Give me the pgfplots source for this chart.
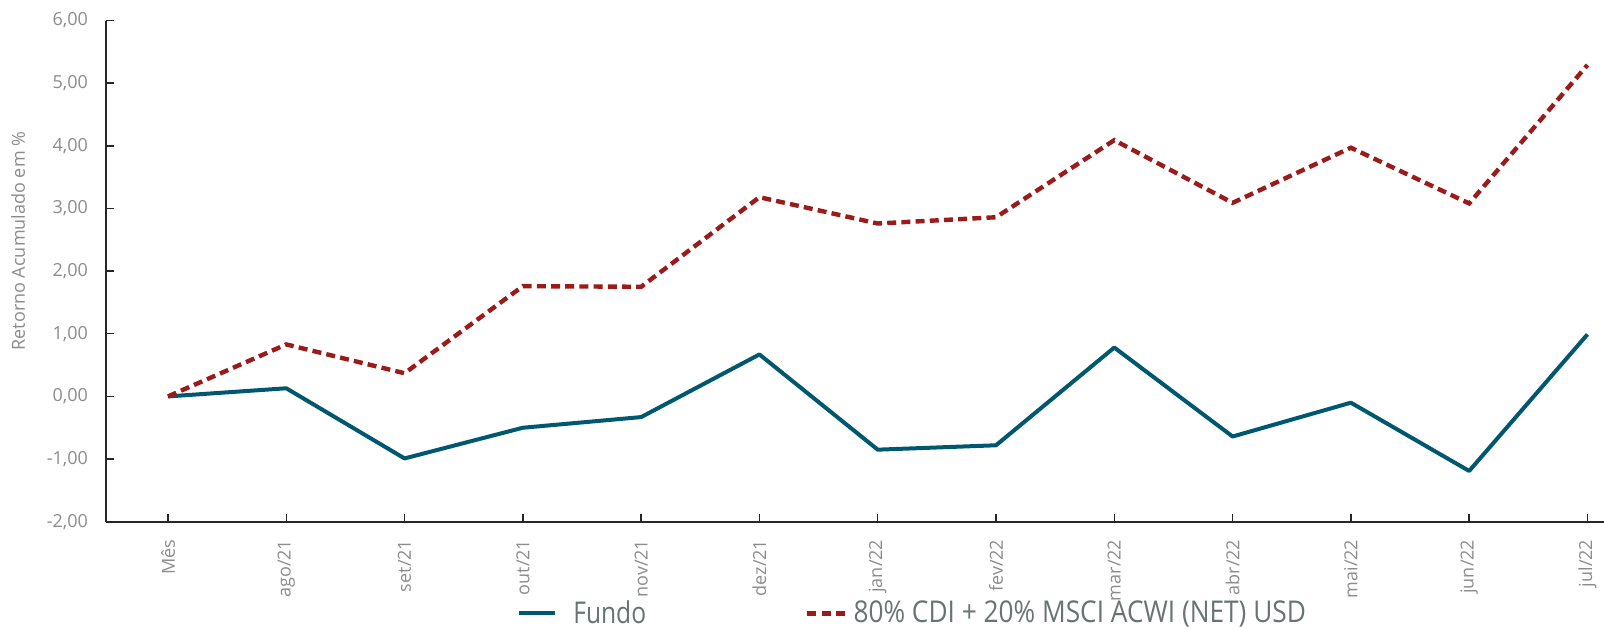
\documentclass[border=0pt]{standalone}
\usepackage{fontspec}
\setmainfont{Open Sans}
\newfontfamily\legfont{Open Sans}[FakeStretch=0.82]
\newfontfamily\legfontB{Open Sans}[FakeStretch=0.875]
\usepackage{pgfplots}
\pgfplotsset{compat=1.18}
\definecolor{fundo}{RGB}{0,88,112}
\definecolor{bench}{RGB}{155,26,26}
\definecolor{ticktext}{RGB}{140,140,140}
\definecolor{legtext}{RGB}{105,115,115}
\pgfplotsset{
  fundoimg/.style={legend image code/.code={\draw[##1] (0pt,0pt) -- (18pt,0pt); \path (25pt,0pt);}},
  benchimg/.style={legend image code/.code={\draw[##1] (0pt,0pt) -- (19.5pt,0pt); \path (21pt,0pt);}},
}
\begin{document}
\begin{tikzpicture}
\useasboundingbox (0,0) rectangle (802pt,-314.5pt);
\begin{axis}[
  at={(53pt,-260.85pt)}, anchor=south west,
  scale only axis, width=749pt, height=250.6pt,
  xmin=-0.524, xmax=12.14, ymin=-2, ymax=6,
  axis x line=bottom, axis y line=left,
  axis line style={line width=0.8pt, black!85, -},
  xtick={0,...,12},
  xticklabels={Mês,ago/21,set/21,out/21,nov/21,dez/21,jan/22,fev/22,mar/22,abr/22,mai/22,jun/22,jul/22},
  ytick={-2,-1,...,6},
  tick align=inside, major tick length=4pt,
  tick style={line width=0.7pt, black!85},
  /pgf/number format/fixed, /pgf/number format/fixed zerofill, /pgf/number format/precision=2,
  /pgf/number format/use comma, /pgf/number format/assume math mode=true,
  yticklabel style={font=\fontsize{9}{10}\selectfont, text=ticktext},
  yticklabel shift=5.5pt,
  xticklabel style={rotate=90, anchor=east, font=\fontsize{9}{10}\selectfont, text=ticktext},
  xticklabel shift=5.5pt,
  ylabel={Retorno Acumulado em \%},
  ylabel style={at={(axis description cs:-0.0587,0.56)}, anchor=center, font=\fontsize{9}{10}\selectfont, text=ticktext},
  legend style={at={(0.2703,-0.183)}, anchor=west, draw=none, fill=none,
    legend columns=2, font=\legfont\fontsize{15}{18}\selectfont,
    nodes={inner sep=1pt, text=legtext},
    /tikz/every even column/.append style={column sep=78.5pt}},
  clip=false,
]
\addplot[color=fundo, line width=2pt, line join=round, fundoimg]
  coordinates {(0,0) (1,0.13) (2,-0.99) (3,-0.50) (4,-0.33) (5,0.67) (6,-0.85) (7,-0.78) (8,0.78) (9,-0.64) (10,-0.10) (11,-1.19) (12,0.99)};
\addlegendentry{Fundo}
\addplot[color=bench, line width=2.2pt, dash pattern=on 4.5pt off 2.6pt, benchimg]
  coordinates {(0,0) (1,0.83) (2,0.37) (3,1.76) (4,1.75) (5,3.18) (6,2.76) (7,2.86) (8,4.09) (9,3.09) (10,3.97) (11,3.08) (12,5.29)};
\addlegendentry{\legfontB 80\% CDI + 20\% MSCI ACWI (NET) USD}
\end{axis}
\end{tikzpicture}
\end{document}
